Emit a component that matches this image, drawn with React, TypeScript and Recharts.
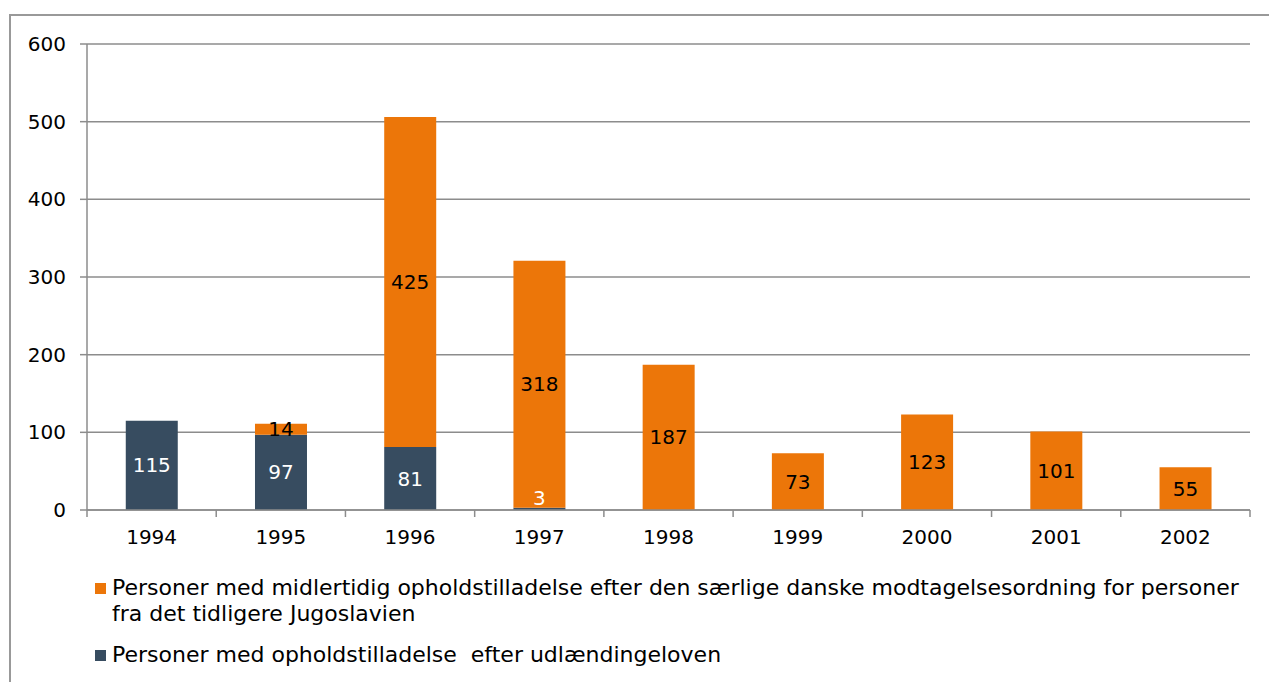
import React from "react";
import { BarChart, Bar, XAxis, YAxis, CartesianGrid, LabelList } from "recharts";

const years = ["1994", "1995", "1996", "1997", "1998", "1999", "2000", "2001", "2002"];
const udlaendingeloven = [115, 97, 81, 3, 0, 0, 0, 0, 0];
const saerordning = [0, 14, 425, 318, 187, 73, 123, 101, 55];
const yTicks = [0, 100, 200, 300, 400, 500, 600];
const seriesNames = [
  "Personer med midlertidig opholdstilladelse efter den særlige danske modtagelsesordning for personer fra det tidligere Jugoslavien",
  "Personer med opholdstilladelse  efter udlændingeloven",
];

const W = 1269;
const H = 682;
const X_AXIS_H = 40;
const MARGIN = { top: 44, right: 19, left: 27, bottom: 172 - X_AXIS_H };
const Y_AXIS_W = 60;
const PLOT_W = W - MARGIN.left - Y_AXIS_W - MARGIN.right;
const PLOT_BOTTOM = H - MARGIN.bottom - X_AXIS_H;
const BAND = PLOT_W / years.length;

const NAVY = "#374C60";
const ORANGE = "#EC7609";
const GRID = "#8C8C8C";
const FONT = "'DejaVu Sans', Verdana, sans-serif";

const data = years.map((year, i) => ({
  year,
  udl: udlaendingeloven[i],
  saer: saerordning[i],
}));

function XTick(props: any) {
  const { x, y, payload, index, visibleTicksCount } = props;
  const left = x - BAND / 2;
  const right = x + BAND / 2;
  return (
    <g>
      <line x1={left} y1={y} x2={left} y2={y + 7} stroke={GRID} strokeWidth={1.5} />
      {index === visibleTicksCount - 1 && (
        <line x1={right} y1={y} x2={right} y2={y + 7} stroke={GRID} strokeWidth={1.5} />
      )}
      <text x={x} y={y + 27} textAnchor="middle" dominantBaseline="central" fontSize={20} fontFamily={FONT} fill="#000">
        {payload.value}
      </text>
    </g>
  );
}

function makeLabel(color: string) {
  return (props: any) => {
    const { x, y, width, height, value } = props;
    if (!value) return null;
    const cy = Math.min(y + height / 2, PLOT_BOTTOM - 12);
    return (
      <text x={x + width / 2} y={cy} textAnchor="middle" dominantBaseline="central" fontSize={20} fontFamily={FONT} fill={color}>
        {value}
      </text>
    );
  };
}

export default function App() {
  const legendColors = [ORANGE, NAVY];
  const legendTops = [575, 642];
  return (
    <div style={{ position: "absolute", left: 0, top: 0, width: W, height: H, overflow: "hidden", background: "#fff" }}>
      <div
        style={{
          position: "absolute",
          left: 9,
          top: 14,
          width: W + 20,
          height: H + 20,
          borderLeft: "2px solid #999",
          borderTop: "2px solid #999",
        }}
      />
      <div style={{ position: "absolute", left: 0, top: 0 }}>
        <BarChart width={W} height={H} data={data} margin={MARGIN} barCategoryGap="30%">
          <CartesianGrid vertical={false} stroke={GRID} strokeWidth={1.5} />
          <XAxis
            dataKey="year"
            axisLine={{ stroke: GRID, strokeWidth: 1.5 }}
            tickLine={false}
            tickSize={0}
            tickMargin={0}
            tick={XTick}
            interval={0}
            height={X_AXIS_H}
          />
          <YAxis
            width={Y_AXIS_W}
            domain={[0, 600]}
            ticks={yTicks}
            interval={0}
            axisLine={{ stroke: GRID, strokeWidth: 1.5 }}
            tickLine={{ stroke: GRID, strokeWidth: 1.5 }}
            tickSize={7}
            tickMargin={14}
            tick={{ fontSize: 20, fontFamily: FONT, fill: "#000" }}
          />
          <Bar dataKey="udl" stackId="a" fill={NAVY} isAnimationActive={false}>
            <LabelList dataKey="udl" content={makeLabel("#fff")} />
          </Bar>
          <Bar dataKey="saer" stackId="a" fill={ORANGE} isAnimationActive={false}>
            <LabelList dataKey="saer" content={makeLabel("#000")} />
          </Bar>
        </BarChart>
      </div>
      {seriesNames.map((name, i) => (
        <div
          key={name}
          style={{
            position: "absolute",
            left: 95,
            top: legendTops[i],
            display: "flex",
            alignItems: "flex-start",
            fontFamily: FONT,
            fontSize: 22,
            lineHeight: "26px",
            color: "#000",
          }}
        >
          <div style={{ width: 11, height: 11, marginTop: 8, marginRight: 6, background: legendColors[i], flexShrink: 0 }} />
          <div style={{ width: 1150, whiteSpace: "pre-wrap" }}>{name}</div>
        </div>
      ))}
    </div>
  );
}
